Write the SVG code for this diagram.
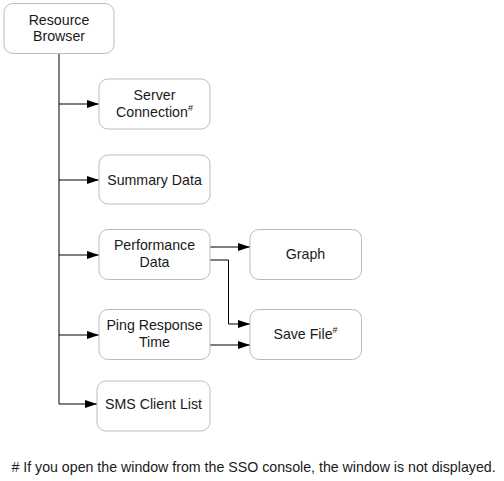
<svg xmlns="http://www.w3.org/2000/svg" width="504" height="481" viewBox="0 0 504 481">
<style>
.box{fill:#fff;stroke:#bdbdbd;stroke-width:1}
.t{font-family:"Liberation Sans",Arial,sans-serif;font-size:14.2px;fill:#1a1a1a;text-anchor:middle}
.c{fill:none;stroke:#000;stroke-width:1}
.sup{font-size:9px}
</style>
<defs>
<marker id="ah" markerWidth="12" markerHeight="8" refX="12" refY="4" orient="auto" markerUnits="userSpaceOnUse">
<path d="M0,0 L12,4 L0,8 Z" fill="#000"/>
</marker>
</defs>
<rect width="504" height="481" fill="#fff"/>
<g id="connectors">
<path class="c" d="M59,53 V404"/>
<path class="c" d="M59,104 H99" marker-end="url(#ah)"/>
<path class="c" d="M59,180 H99" marker-end="url(#ah)"/>
<path class="c" d="M59,255 H99" marker-end="url(#ah)"/>
<path class="c" d="M59,335 H99" marker-end="url(#ah)"/>
<path class="c" d="M59,404 H97" marker-end="url(#ah)"/>
<path class="c" d="M210,247 H250" marker-end="url(#ah)"/>
<path class="c" d="M210,260 H228.5 V324 H250" marker-end="url(#ah)"/>
<path class="c" d="M210,345 H250" marker-end="url(#ah)"/>
</g>
<g id="resource-browser">
<rect class="box" x="4" y="3.5" width="110" height="50" rx="9"/>
<text class="t" x="59" y="24.5">Resource</text>
<text class="t" x="59" y="41">Browser</text>
</g>
<g id="server-connection">
<rect class="box" x="99" y="79" width="111" height="50" rx="9"/>
<text class="t" x="154.5" y="100">Server</text>
<text class="t" x="154.5" y="117">Connection<tspan class="sup" dy="-6">#</tspan></text>
</g>
<g id="summary-data">
<rect class="box" x="99" y="155" width="111" height="49" rx="9"/>
<text class="t" x="154.5" y="184.5">Summary Data</text>
</g>
<g id="performance-data">
<rect class="box" x="99" y="229.5" width="111" height="50" rx="9"/>
<text class="t" x="154.5" y="250">Performance</text>
<text class="t" x="154.5" y="267">Data</text>
</g>
<g id="graph">
<rect class="box" x="250" y="229.5" width="111.5" height="50" rx="9"/>
<text class="t" x="305.5" y="259">Graph</text>
</g>
<g id="ping-response-time">
<rect class="box" x="99" y="309.5" width="111" height="50" rx="9"/>
<text class="t" x="154.5" y="330">Ping Response</text>
<text class="t" x="154.5" y="347">Time</text>
</g>
<g id="save-file">
<rect class="box" x="250" y="309.5" width="111.5" height="50" rx="9"/>
<text class="t" x="305.5" y="339">Save File<tspan class="sup" dy="-6">#</tspan></text>
</g>
<g id="sms-client-list">
<rect class="box" x="97" y="381" width="113" height="50" rx="9"/>
<text class="t" x="153.5" y="409">SMS Client List</text>
</g>
<text class="t" x="253.5" y="472">#  If you open the window from the SSO console, the window is not displayed.</text>
</svg>
